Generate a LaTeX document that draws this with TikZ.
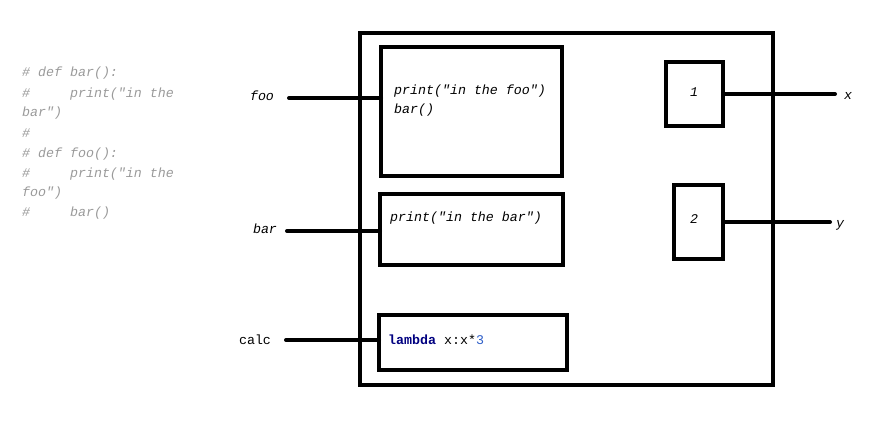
\documentclass[tikz,border=0pt]{standalone}
\usepackage{fontspec}
\newfontfamily\codefont{Liberation Mono}
\usepackage{xcolor}
\definecolor{CmtGray}{HTML}{9A9A9A}
\definecolor{KwNavy}{HTML}{000080}
\definecolor{NumBlue}{HTML}{2F5FC8}

\begin{document}
\begin{tikzpicture}[x=1pt,y=-1pt,
  blk/.style={draw,line width=4pt,inner sep=0pt,outer sep=0pt,anchor=north west},
  wire/.style={line width=4pt,line cap=round},
  code/.style={font=\codefont\fontsize{13.3}{16}\selectfont,inner sep=0pt},
  codeit/.style={code,font=\codefont\itshape\fontsize{13.3}{16}\selectfont},
  cmt/.style={codeit,text=CmtGray,anchor=west}]
\path[use as bounding box] (0,0) rectangle (888,424);
% commented source on the left
\foreach \ypos/\txt [count=\i] in {73/{\# def bar():},
    94/{\#\phantom{xxxxx}print("in the},
    113/{bar")},
    133/{\#},
    154/{\# def foo():},
    174/{\#\phantom{xxxxx}print("in the},
    193/{foo")},
    213/{\#\phantom{xxxxx}bar()}}
  \node[cmt] (cmt\i) at (22,\ypos) {\txt};
% closure frame and its cells
\node[blk,minimum width=413,minimum height=352] (frame) at (360,33) {};
\node[blk,minimum width=181,minimum height=129] (foobox) at (381,47) {};
\node[blk,minimum width=183,minimum height=71] (barbox) at (380,194) {};
\node[blk,minimum width=188,minimum height=55] (calcbox) at (379,315) {};
\node[blk,minimum width=57,minimum height=64] (onebox) at (666,62) {};
\node[blk,minimum width=49,minimum height=74] (twobox) at (674,185) {};
% cell contents
\node[codeit,anchor=west] (footxt) at (394,91) {print("in the foo")};
\node[codeit,anchor=west] (foocall) at (394,110) {bar()};
\node[codeit,anchor=west] (bartxt) at (390,218) {print("in the bar")};
\node[code,anchor=west] (calctxt) at (388,340) {\textcolor{KwNavy}{\bfseries lambda} x:x*\textcolor{NumBlue}{3}};
\node[codeit] (one) at (694,92) {1};
\node[codeit] (two) at (694,219) {2};
% names
\node[codeit] (foo) at (262,96) {foo};
\node[codeit] (bar) at (265,229) {bar};
\node[code] (calc) at (255,340) {calc};
\node[codeit] (x) at (848,96) {x};
\node[codeit] (y) at (840,225) {y};
\coordinate (fooend) at (289,98);
\coordinate (barend) at (287,231);
\coordinate (calcend) at (286,340);
\coordinate (xend) at (835,94);
\coordinate (yend) at (830,222);
% bindings
\draw[wire] (fooend) -- (fooend -| foobox.west);
\draw[wire] (barend) -- (barend -| barbox.west);
\draw[wire] (calcend) -- (calcend -| calcbox.west);
\draw[wire] (onebox.east) -- (onebox.east -| xend);
\draw[wire] (twobox.east) -- (twobox.east -| yend);
\end{tikzpicture}
\end{document}
